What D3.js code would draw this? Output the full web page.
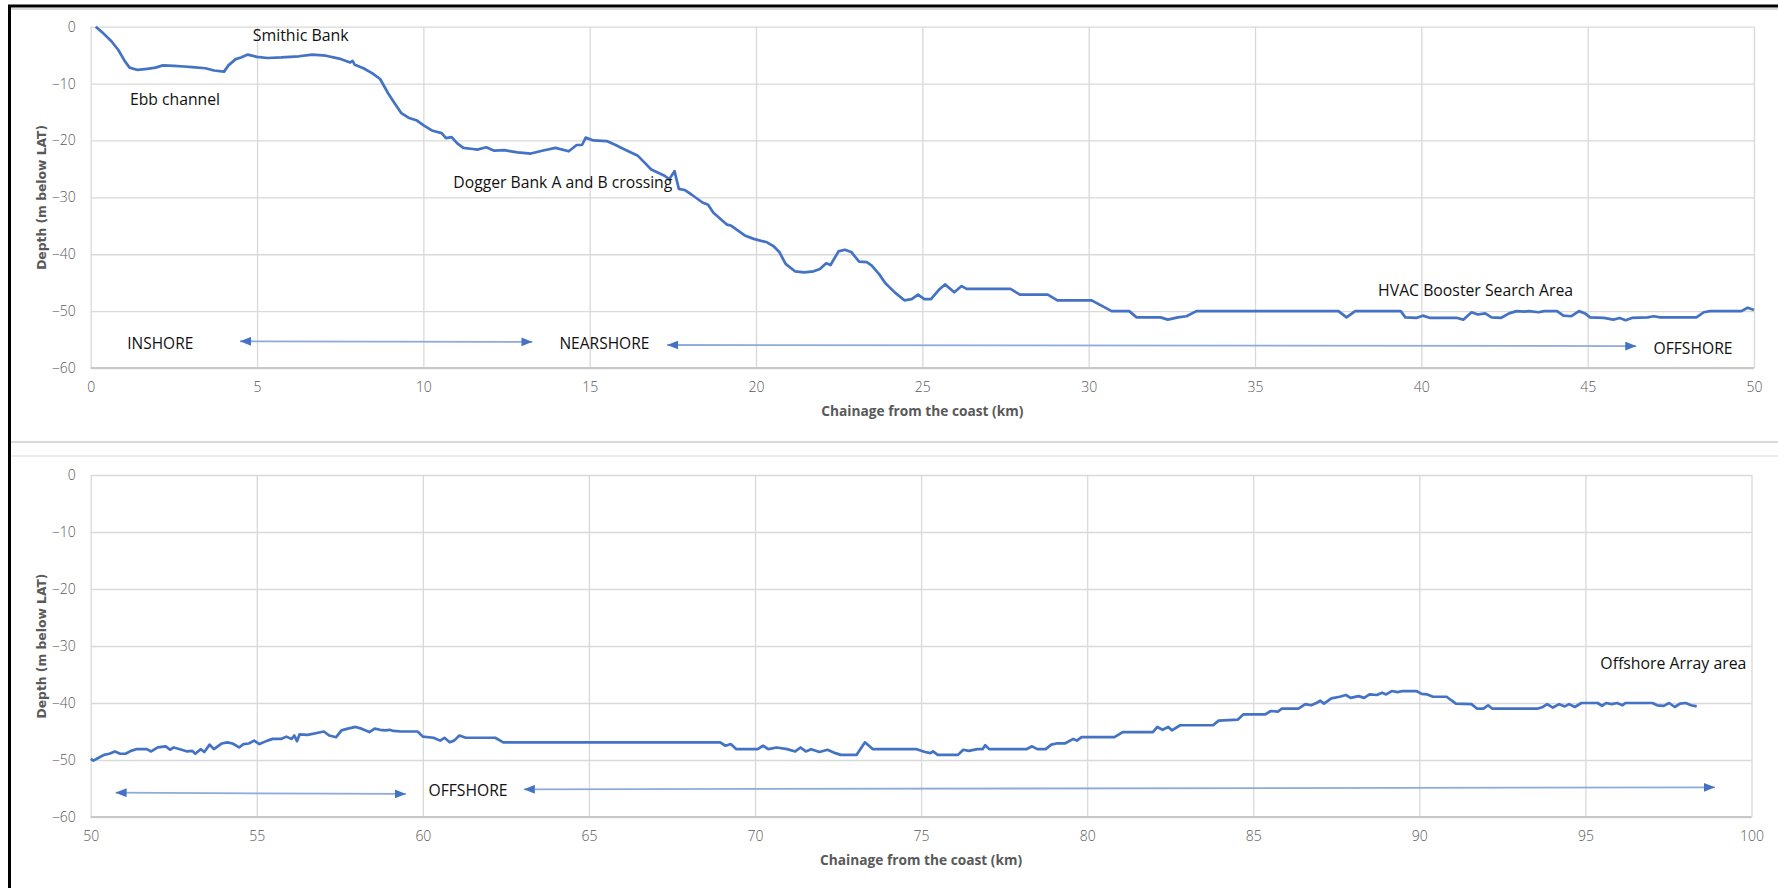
<!DOCTYPE html>
<html>
<head>
<meta charset="utf-8">
<script src="https://cdnjs.cloudflare.com/ajax/libs/d3/7.8.5/d3.min.js"></script>
<style>
  body { margin: 0; background: #fff; }
  .tick text { font-family: "Open Sans", sans-serif; font-size: 14px; font-weight: 300; fill: #595959; }
  .grid line { stroke: #d9d9d9; stroke-width: 1.3px; }
  .grid path { display: none; }
  .note { font-family: "Open Sans", sans-serif; font-size: 16.5px; fill: #111; }
  .xtitle { font-family: "Open Sans", sans-serif; font-size: 14px; font-weight: bold; fill: #595959; }
  .ytitle { font-family: "DejaVu Sans", sans-serif; font-size: 12.5px; font-weight: bold; fill: #595959; }
</style>
</head>
<body>
<div id="chart"></div>
<script>

// depth profile, 0-50 km
var topChainage = [0.15,0.35,0.63,0.83,1.03,1.17,1.41,1.7,1.95,2.17,2.51,2.8,3.05,3.45,3.71,4.01,4.14,4.36,4.52,4.72,4.99,5.32,5.73,6.26,6.66,7.07,7.47,7.8,7.87,7.94,8.2,8.47,8.7,8.94,9.14,9.34,9.55,9.81,10.02,10.28,10.55,10.68,10.85,11.02,11.2,11.49,11.62,11.89,12.13,12.43,12.83,13.23,13.57,13.97,14.37,14.61,14.77,14.88,15.11,15.51,15.78,16.05,16.45,16.65,16.85,17.25,17.39,17.55,17.68,17.85,18.06,18.39,18.56,18.72,19.13,19.26,19.66,19.93,20.33,20.53,20.7,20.89,21.17,21.45,21.73,21.92,22.11,22.24,22.48,22.67,22.86,23.1,23.33,23.48,23.7,23.89,24.17,24.46,24.68,24.87,25.06,25.26,25.49,25.68,25.96,26.18,26.33,27.65,27.93,28.77,29.06,30.09,30.37,30.69,31.22,31.44,32.16,32.38,32.68,32.94,33.24,37.51,37.75,38.01,39.38,39.52,39.85,40.04,40.27,41.08,41.26,41.51,41.7,41.92,42.11,42.39,42.64,42.86,43.09,43.24,43.52,43.7,44.08,44.27,44.51,44.74,44.92,45.07,45.49,45.77,45.96,46.14,46.33,46.8,46.99,47.18,48.27,48.49,48.68,49.62,49.81,50];
var topDepth = [0,-1.0,-2.6,-4.1,-6.1,-7.2,-7.6,-7.4,-7.2,-6.8,-6.9,-7.0,-7.1,-7.3,-7.7,-7.9,-6.8,-5.7,-5.4,-4.9,-5.3,-5.5,-5.4,-5.2,-4.9,-5.1,-5.6,-6.3,-6.0,-6.7,-7.3,-8.2,-9.2,-11.7,-13.5,-15.2,-16,-16.5,-17.4,-18.3,-18.7,-19.6,-19.4,-20.5,-21.3,-21.5,-21.6,-21.2,-21.8,-21.7,-22.1,-22.3,-21.8,-21.3,-21.9,-20.8,-20.8,-19.5,-20,-20.1,-20.8,-21.6,-22.7,-23.9,-25.1,-26.2,-26.8,-25.4,-28.5,-28.7,-29.5,-30.9,-31.3,-32.7,-34.8,-35,-36.7,-37.3,-37.9,-38.6,-39.6,-41.7,-43,-43.2,-43,-42.6,-41.6,-41.9,-39.5,-39.2,-39.6,-41.3,-41.4,-42,-43.5,-45.1,-46.7,-48.1,-47.9,-47.1,-47.9,-47.9,-46.3,-45.3,-46.7,-45.6,-46.1,-46.1,-47.1,-47.1,-48.1,-48.1,-49,-50,-50,-51.1,-51.1,-51.5,-51.1,-50.9,-50,-50,-51.1,-50,-50,-51.1,-51.2,-50.8,-51.2,-51.2,-51.5,-50.2,-50.6,-50.4,-51.1,-51.2,-50.4,-50,-50.1,-50,-50.2,-50,-50,-50.8,-50.9,-50,-50.4,-51.1,-51.2,-51.5,-51.2,-51.6,-51.2,-51.1,-50.9,-51.1,-51.1,-50.2,-50,-50,-49.4,-49.8];

// depth profile, 50-100 km
var bottomChainage = [50,50.08,50.24,50.4,50.56,50.73,50.89,51.05,51.21,51.37,51.69,51.82,52.02,52.26,52.39,52.5,52.74,52.9,53.06,53.15,53.31,53.42,53.58,53.71,53.95,54.11,54.27,54.47,54.6,54.76,54.92,55.08,55.32,55.48,55.73,55.89,56.05,56.13,56.21,56.29,56.53,56.77,57.02,57.18,57.39,57.55,57.74,57.98,58.15,58.39,58.55,58.71,58.87,59,59.11,59.35,59.84,60,60.32,60.52,60.65,60.81,60.94,61.1,61.29,62.18,62.42,68.95,69.11,69.27,69.44,70.08,70.24,70.4,70.65,70.97,71.21,71.37,71.53,71.69,71.94,72.18,72.42,72.58,73.06,73.31,73.55,74.87,75.12,75.28,75.36,75.5,76.11,76.27,76.44,76.69,76.85,76.93,77.05,78.17,78.34,78.5,78.75,78.92,79.08,79.33,79.58,79.69,79.83,80.82,81.07,81.98,82.11,82.27,82.44,82.55,82.8,83.79,83.96,84.54,84.7,85.36,85.53,85.74,85.86,86.36,86.57,86.74,86.9,87.02,87.13,87.35,87.6,87.79,87.93,88.17,88.34,88.5,88.72,88.88,89,89.17,89.34,89.5,89.91,90.07,90.24,90.41,90.82,90.98,91.1,91.57,91.74,91.93,92.07,92.2,93.55,93.72,93.85,94.02,94.21,94.38,94.51,94.68,94.88,95.37,95.5,95.62,95.79,95.95,96.12,96.2,97.02,97.16,97.36,97.52,97.69,97.85,98.02,98.18,98.35];
var bottomDepth = [-49.8,-50.1,-49.6,-49.1,-48.9,-48.5,-48.9,-48.9,-48.4,-48.1,-48.1,-48.5,-47.8,-47.6,-48.2,-47.8,-48.2,-48.5,-48.4,-48.9,-48.1,-48.6,-47.3,-48.1,-47.1,-46.9,-47.1,-47.8,-47.2,-47.1,-46.6,-47.2,-46.6,-46.3,-46.3,-45.9,-46.3,-45.7,-46.7,-45.5,-45.6,-45.3,-45.0,-45.7,-46,-44.8,-44.5,-44.2,-44.5,-45.1,-44.5,-44.7,-44.8,-44.7,-44.9,-45,-45,-45.9,-46.1,-46.6,-46.1,-46.9,-46.6,-45.7,-46.1,-46.1,-46.9,-46.9,-47.5,-47.2,-48.1,-48.1,-47.5,-48.1,-47.8,-48.1,-48.5,-47.8,-48.5,-48.1,-48.6,-48.2,-48.8,-49.1,-49.1,-46.9,-48.1,-48.1,-48.6,-48.8,-48.5,-49.1,-49.1,-48.2,-48.4,-48.1,-48.1,-47.4,-48.1,-48.1,-47.6,-48.1,-48.1,-47.3,-47.1,-47.1,-46.3,-46.6,-46.0,-46,-45.1,-45.1,-44.2,-44.7,-44.2,-44.8,-43.9,-43.9,-43.1,-42.9,-42,-42,-41.4,-41.5,-41,-41,-40.2,-40.4,-40,-39.6,-40.1,-39.2,-38.9,-38.6,-39.1,-38.8,-39.1,-38.5,-38.6,-38.2,-38.5,-37.9,-38.1,-37.9,-37.9,-38.4,-38.5,-38.9,-38.9,-39.6,-40.1,-40.2,-41,-41,-40.4,-41,-41,-40.7,-40.2,-40.8,-40.2,-40.6,-40.2,-40.7,-40,-40,-40.5,-40,-40.2,-40,-40.4,-40,-40,-40.4,-40.5,-40,-40.7,-40.1,-40,-40.4,-40.6];

var yTicks = [0, -10, -20, -30, -40, -50, -60];
var topXTicks = [0, 5, 10, 15, 20, 25, 30, 35, 40, 45, 50];
var bottomXTicks = [50, 55, 60, 65, 70, 75, 80, 85, 90, 95, 100];

// annotation labels (placed at km / depth)
var topNoteText = ["Smithic Bank", "Ebb channel", "Dogger Bank A and B crossing", "HVAC Booster Search Area", "INSHORE", "NEARSHORE", "OFFSHORE"];
var topNoteKm = [4.87, 1.18, 10.9, 38.7, 1.1, 14.09, 46.98];
var topNoteDepth = [-2.46, -13.8, -28.4, -47.4, -56.7, -56.6, -57.5];
var bottomNoteText = ["Offshore Array area", "OFFSHORE"];
var bottomNoteKm = [95.45, 60.17];
var bottomNoteDepth = [-34.0, -56.3];

// double arrows: [km1, depth1, km2, depth2]
var topArrows = [[4.49, -55.3, 13.28, -55.4], [17.33, -55.96, 46.46, -56.14]];
var bottomArrows = [[50.75, -55.74, 59.49, -55.96], [63.04, -55.14, 98.9, -54.8]];

var svgWidth = 1778;
var svgHeight = 888;

// label widths in px, to hold the narrow look of the original font
var noteWidths = {
  "Smithic Bank": 96, "Ebb channel": 90, "Dogger Bank A and B crossing": 219,
  "HVAC Booster Search Area": 195, "INSHORE": 66, "NEARSHORE": 90,
  "OFFSHORE": 79, "Offshore Array area": 146
};

var svg = d3.select("#chart")
  .append("svg")
  .attr("width", svgWidth)
  .attr("height", svgHeight);

svg.append("defs").append("marker")
  .attr("id", "head")
  .attr("viewBox", "0 0 10 8")
  .attr("refX", 10)
  .attr("refY", 4)
  .attr("markerWidth", 11)
  .attr("markerHeight", 9)
  .attr("markerUnits", "userSpaceOnUse")
  .attr("orient", "auto-start-reverse")
  .append("path")
  .attr("d", "M0,0L10,4L0,8Z")
  .attr("fill", "#4472c4");

// frame lines round the picture
svg.append("line").attr("x1", 8).attr("x2", svgWidth).attr("y1", 9).attr("y2", 9)
  .attr("stroke", "#d9d9d9").attr("stroke-width", 2);
svg.append("line").attr("x1", 11).attr("x2", svgWidth).attr("y1", 442).attr("y2", 442)
  .attr("stroke", "#d9d9d9").attr("stroke-width", 2);
svg.append("line").attr("x1", 11).attr("x2", svgWidth).attr("y1", 456).attr("y2", 456)
  .attr("stroke", "#e6e6e6").attr("stroke-width", 1.5);
svg.append("line").attr("x1", 8).attr("x2", svgWidth).attr("y1", 6).attr("y2", 6)
  .attr("stroke", "#000").attr("stroke-width", 3);
svg.append("line").attr("x1", 9.5).attr("x2", 9.5).attr("y1", 5).attr("y2", svgHeight)
  .attr("stroke", "#000").attr("stroke-width", 3);

var panels = [
  { chainage: topChainage, depth: topDepth, xDomain: [0, 50], xTicks: topXTicks,
    left: 90.7, right: 1754, top: 26.7, bottom: 368, titleY: 416,
    noteText: topNoteText, noteKm: topNoteKm, noteDepth: topNoteDepth, arrows: topArrows },
  { chainage: bottomChainage, depth: bottomDepth, xDomain: [50, 100], xTicks: bottomXTicks,
    left: 90.7, right: 1751.5, top: 475, bottom: 817, titleY: 865,
    noteText: bottomNoteText, noteKm: bottomNoteKm, noteDepth: bottomNoteDepth, arrows: bottomArrows }
];

panels.forEach(function(p) {
  var width = p.right - p.left;
  var height = p.bottom - p.top;

  var xScale = d3.scaleLinear().domain(p.xDomain).range([0, width]);
  var yScale = d3.scaleLinear().domain([-60, 0]).range([height, 0]);

  var chartGroup = svg.append("g")
    .attr("transform", `translate(${p.left}, ${p.top})`);

  // gridlines
  chartGroup.append("g")
    .classed("grid", true)
    .call(d3.axisLeft(yScale).tickValues(yTicks).tickSize(-width).tickFormat(""));

  chartGroup.append("g")
    .classed("grid", true)
    .attr("transform", `translate(0, ${height})`)
    .call(d3.axisBottom(xScale).tickValues(p.xTicks).tickSize(height).tickFormat(""))
    .selectAll("line")
    .attr("y2", -height);

  // x axis line
  chartGroup.append("line")
    .attr("x1", 0).attr("x2", width)
    .attr("y1", height).attr("y2", height)
    .attr("stroke", "#c8c8c8")
    .attr("stroke-width", 2);

  // tick labels
  var leftAxis = chartGroup.append("g")
    .call(d3.axisLeft(yScale).tickValues(yTicks).tickSize(0).tickPadding(15).tickFormat(d3.format("d")));
  leftAxis.select(".domain").remove();

  var bottomAxis = chartGroup.append("g")
    .attr("transform", `translate(0, ${height})`)
    .call(d3.axisBottom(xScale).tickValues(p.xTicks).tickSize(0).tickPadding(14));
  bottomAxis.select(".domain").remove();

  // depth profile
  var pts = p.chainage.map(function(k, i) { return [k, p.depth[i]]; });
  var line = d3.line()
    .x(d => xScale(d[0]))
    .y(d => yScale(d[1]));

  chartGroup.append("path")
    .datum(pts)
    .attr("d", line)
    .attr("fill", "none")
    .attr("stroke", "#4472c4")
    .attr("stroke-width", 2.7)
    .attr("stroke-linejoin", "round");

  // arrows
  chartGroup.selectAll(".arrow")
    .data(p.arrows).enter()
    .append("line")
    .classed("arrow", true)
    .attr("x1", d => xScale(d[0]))
    .attr("y1", d => yScale(d[1]))
    .attr("x2", d => xScale(d[2]))
    .attr("y2", d => yScale(d[3]))
    .attr("stroke", "#8eaadb")
    .attr("stroke-width", 1.8)
    .attr("marker-start", "url(#head)")
    .attr("marker-end", "url(#head)");

  // notes
  chartGroup.selectAll(".note")
    .data(p.noteText).enter()
    .append("text")
    .classed("note", true)
    .attr("x", (d, i) => xScale(p.noteKm[i]))
    .attr("y", (d, i) => yScale(p.noteDepth[i]))
    .attr("textLength", d => noteWidths[d])
    .attr("lengthAdjust", "spacingAndGlyphs")
    .text(d => d);

  // axis titles
  svg.append("text")
    .classed("xtitle", true)
    .attr("x", p.left + width / 2)
    .attr("y", p.titleY)
    .attr("text-anchor", "middle")
    .attr("textLength", 202)
    .attr("lengthAdjust", "spacingAndGlyphs")
    .text("Chainage from the coast (km)");

  svg.append("text")
    .classed("ytitle", true)
    .attr("transform", `translate(46, ${p.top + height / 2}) rotate(-90)`)
    .attr("text-anchor", "middle")
    .attr("textLength", 145)
    .attr("lengthAdjust", "spacingAndGlyphs")
    .text("Depth (m below LAT)");
});

</script>
</body>
</html>
